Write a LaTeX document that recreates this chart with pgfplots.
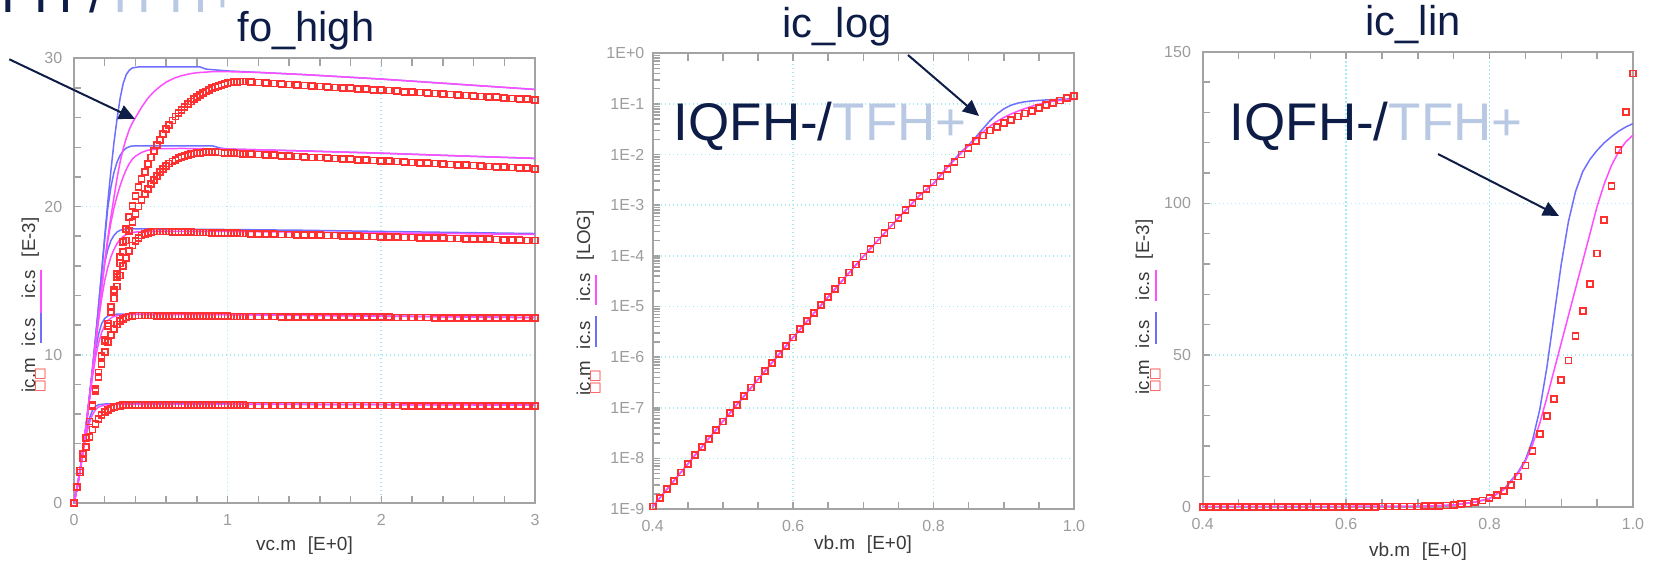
\documentclass[border=0pt]{standalone}
\usepackage{fontspec}
\setmainfont{Liberation Sans}
\newfontfamily\symfont{DejaVu Sans}
\usepackage{xcolor}
\usepackage{pgfplots}
\usepackage{pgfplotstable}
\pgfplotsset{compat=1.18}
\usetikzlibrary{arrows.meta}

\definecolor{navy}{HTML}{0E1D47}
\definecolor{paleblue}{HTML}{B9C8E3}
\definecolor{simblue}{HTML}{6F6FFF}
\definecolor{simmag}{HTML}{FF4DFF}
\definecolor{measred}{HTML}{FF3030}
\definecolor{gridcyan}{HTML}{A8EAF2}
\definecolor{framegray}{HTML}{A3A3A3}
\definecolor{ticklab}{HTML}{9C9C9C}
\definecolor{labgray}{HTML}{3A3A3A}

% output characteristics: vce sweep, five base currents
\pgfplotstableread{
v r1 r2 r3 r4 r5
0.00 0 0 0 0 0
0.02 1.05 1.10 1.10 1.10 1.10
0.04 2.05 2.20 2.20 2.20 2.20
0.06 3.00 3.30 3.30 3.30 3.30
0.08 3.80 4.40 4.40 4.40 4.40
0.10 4.45 5.50 5.50 5.50 5.50
0.12 4.95 6.55 6.60 6.60 6.60
0.14 5.35 7.55 7.70 7.70 7.70
0.16 5.68 8.50 8.80 8.80 8.80
0.18 5.94 9.40 9.90 9.90 9.90
0.20 6.13 10.20 10.95 11.00 11.00
0.22 6.27 10.85 11.95 12.10 12.10
0.24 6.38 11.35 12.90 13.20 13.25
0.26 6.46 11.75 13.80 14.25 14.35
0.28 6.52 12.05 14.60 15.25 15.45
0.30 6.56 12.27 15.35 16.15 16.60
0.32 6.59 12.42 16.00 16.95 17.60
0.34 6.60 12.52 16.55 17.70 18.50
0.36 6.60 12.58 17.00 18.35 19.30
0.38 6.60 12.62 17.38 18.95 20.05
0.40 6.60 12.64 17.67 19.50 20.70
0.42 6.60 12.64 17.89 20.00 21.30
0.44 6.60 12.64 18.04 20.45 21.85
0.46 6.60 12.64 18.15 20.85 22.35
0.48 6.60 12.64 18.23 21.20 22.85
0.50 6.60 12.64 18.28 21.52 23.30
0.52 6.60 12.64 18.31 21.80 23.75
0.54 6.60 12.63 18.32 22.08 24.15
0.56 6.60 12.63 18.32 22.33 24.50
0.58 6.60 12.63 18.32 22.55 24.88
0.60 6.60 12.63 18.31 22.74 25.22
0.62 6.60 12.62 18.31 22.90 25.52
0.64 6.59 12.62 18.30 23.04 25.80
0.66 6.59 12.62 18.29 23.16 26.07
0.68 6.59 12.62 18.29 23.27 26.30
0.70 6.59 12.62 18.28 23.36 26.52
0.72 6.59 12.62 18.28 23.43 26.72
0.74 6.59 12.61 18.27 23.49 26.91
0.76 6.59 12.61 18.27 23.54 27.08
0.78 6.59 12.61 18.26 23.58 27.24
0.80 6.59 12.61 18.26 23.61 27.39
0.82 6.59 12.61 18.25 23.63 27.52
0.84 6.59 12.60 18.25 23.65 27.65
0.86 6.59 12.60 18.24 23.66 27.77
0.88 6.59 12.60 18.24 23.67 27.88
0.90 6.59 12.60 18.23 23.67 27.98
0.92 6.59 12.60 18.23 23.66 28.07
0.94 6.59 12.60 18.22 23.65 28.15
0.96 6.59 12.60 18.22 23.64 28.22
0.98 6.59 12.60 18.21 23.63 28.28
1.00 6.59 12.60 18.21 23.62 28.33
1.02 6.59 12.59 18.20 23.61 28.37
1.04 6.59 12.59 18.20 23.60 28.40
1.06 6.59 12.59 18.20 23.59 28.42
1.08 6.59 12.59 18.19 23.58 28.43
1.10 6.59 12.59 18.19 23.56 28.43
1.15 6.58 12.59 18.17 23.54 28.40
1.20 6.58 12.58 18.16 23.51 28.37
1.25 6.58 12.58 18.15 23.48 28.33
1.30 6.58 12.58 18.14 23.46 28.30
1.35 6.58 12.57 18.12 23.43 28.27
1.40 6.58 12.57 18.11 23.40 28.24
1.45 6.58 12.57 18.10 23.38 28.20
1.50 6.58 12.56 18.09 23.35 28.17
1.55 6.58 12.56 18.07 23.32 28.14
1.60 6.58 12.56 18.06 23.30 28.11
1.65 6.57 12.55 18.05 23.27 28.07
1.70 6.57 12.55 18.04 23.24 28.04
1.75 6.57 12.55 18.02 23.22 28.01
1.80 6.57 12.54 18.01 23.19 27.98
1.85 6.57 12.54 18.00 23.16 27.95
1.90 6.57 12.54 17.99 23.14 27.91
1.95 6.57 12.53 17.97 23.11 27.88
2.00 6.57 12.53 17.96 23.08 27.85
2.05 6.57 12.53 17.95 23.06 27.82
2.10 6.57 12.52 17.94 23.03 27.78
2.15 6.56 12.52 17.92 23.00 27.75
2.20 6.56 12.51 17.91 22.98 27.72
2.25 6.56 12.51 17.90 22.95 27.69
2.30 6.56 12.51 17.89 22.92 27.66
2.35 6.56 12.50 17.87 22.90 27.62
2.40 6.56 12.50 17.86 22.87 27.59
2.45 6.56 12.50 17.85 22.84 27.56
2.50 6.56 12.49 17.84 22.82 27.53
2.55 6.56 12.49 17.82 22.79 27.49
2.60 6.56 12.49 17.81 22.76 27.46
2.65 6.55 12.48 17.80 22.74 27.43
2.70 6.55 12.48 17.79 22.71 27.40
2.75 6.55 12.48 17.77 22.68 27.37
2.80 6.55 12.47 17.76 22.66 27.33
2.85 6.55 12.47 17.75 22.63 27.30
2.90 6.55 12.47 17.74 22.60 27.27
2.95 6.55 12.46 17.72 22.58 27.24
3.00 6.55 12.46 17.71 22.55 27.20
}\fohigh

% gummel sweep, measured ic in A and in mA
\pgfplotstableread{
v ia ima
0.40 1.12e-9 1.12e-6
0.41 1.66e-9 1.66e-6
0.42 2.45e-9 2.45e-6
0.43 3.55e-9 3.55e-6
0.44 5.25e-9 5.25e-6
0.45 7.76e-9 7.76e-6
0.46 1.15e-8 1.15e-5
0.47 1.70e-8 1.70e-5
0.48 2.45e-8 2.45e-5
0.49 3.63e-8 3.63e-5
0.50 5.37e-8 5.37e-5
0.51 7.94e-8 7.94e-5
0.52 1.15e-7 1.15e-4
0.53 1.70e-7 1.70e-4
0.54 2.51e-7 2.51e-4
0.55 3.63e-7 3.63e-4
0.56 5.37e-7 5.37e-4
0.57 7.76e-7 7.76e-4
0.58 1.15e-6 1.15e-3
0.59 1.66e-6 1.66e-3
0.60 2.45e-6 2.45e-3
0.61 3.55e-6 3.55e-3
0.62 5.13e-6 5.13e-3
0.63 7.41e-6 7.41e-3
0.64 1.07e-5 0.0107
0.65 1.55e-5 0.0155
0.66 2.24e-5 0.0224
0.67 3.24e-5 0.0324
0.68 4.68e-5 0.0468
0.69 6.76e-5 0.0676
0.70 9.77e-5 0.0977
0.71 1.38e-4 0.138
0.72 2.00e-4 0.200
0.73 2.82e-4 0.282
0.74 3.98e-4 0.398
0.75 5.62e-4 0.562
0.76 7.94e-4 0.794
0.77 1.10e-3 1.10
0.78 1.51e-3 1.51
0.79 2.09e-3 2.09
0.80 2.82e-3 2.82
0.81 3.80e-3 3.80
0.82 5.20e-3 5.20
0.83 7.20e-3 7.20
0.84 1.00e-2 10.0
0.85 1.36e-2 13.6
0.86 1.84e-2 18.4
0.87 2.40e-2 24.0
0.88 2.98e-2 29.8
0.89 3.56e-2 35.6
0.90 4.18e-2 41.8
0.91 4.82e-2 48.2
0.92 5.63e-2 56.3
0.93 6.45e-2 64.5
0.94 7.35e-2 73.5
0.95 8.35e-2 83.5
0.96 9.46e-2 94.6
0.97 1.057e-1 105.7
0.98 1.177e-1 117.7
0.99 1.301e-1 130.1
1.00 1.428e-1 142.8
}\gummel

\pgfplotsset{
  panel/.style={
    scale only axis,
    axis line style={framegray, line width=0.6pt},
    tick style={framegray, line width=0.45pt},
    major tick length=2.2pt, minor tick length=2.2pt,
    tick align=inside,
    xtick pos=both, xticklabel pos=lower,
    ytick pos=left,
    grid=major,
    major grid style={gridcyan, line width=0.5pt, dash pattern=on 0.4pt off 0.8pt},
    ticklabel style={font=\fontsize{4.8}{5}\selectfont, text=ticklab},
    /pgf/number format/assume math mode=true,
  },
  meas/.style={only marks, mark=square, mark size=0.9pt,
    mark options={draw=measred, line width=0.5pt, fill=none}},
  simA/.style={simblue, line width=0.45pt, no marks},
  simB/.style={simmag, line width=0.45pt, no marks},
}

\begin{document}
\begin{tikzpicture}[x=0.3pt, y=0.3pt]
\useasboundingbox (0,0) rectangle (1659,576);
\clip (0,0) rectangle (1659,576);

% ---------- fo_high ----------
\begin{axis}[panel,
    at={(22.2pt,21.9pt)}, anchor=south west,
    width=138.3pt, height=133.41pt,
    xmin=0, xmax=3, ymin=0, ymax=30,
    xtick={0,1,2,3}, xticklabels={0,1,2,3}, minor x tick num=4,
    ytick={0,10,20,30}, yticklabels={0,10,20,30}, minor y tick num=4,
]
\addplot[meas] table[x=v, y=r1] {\fohigh};
\addplot[meas] table[x=v, y=r2] {\fohigh};
\addplot[meas] table[x=v, y=r3] {\fohigh};
\addplot[meas] table[x=v, y=r4] {\fohigh};
\addplot[meas] table[x=v, y=r5] {\fohigh};
% model 1
\addplot[simA] coordinates {(0,0) (0.02,1.0) (0.04,2.2) (0.06,3.6) (0.08,4.8) (0.10,5.7) (0.12,6.25) (0.14,6.52) (0.16,6.63) (0.20,6.68) (1.0,6.68) (2.0,6.65) (3.0,6.62)};
\addplot[simA] coordinates {(0,0) (0.02,1.0) (0.04,2.2) (0.06,3.7) (0.08,5.3) (0.10,7.1) (0.12,8.8) (0.14,10.3) (0.16,11.4) (0.18,12.1) (0.20,12.45) (0.22,12.62) (0.25,12.72) (0.30,12.75) (1.0,12.73) (2.0,12.62) (3.0,12.52)};
\addplot[simA] coordinates {(0,0) (0.02,1.0) (0.04,2.2) (0.06,3.7) (0.08,5.3) (0.10,7.1) (0.12,9.0) (0.14,11.1) (0.16,13.1) (0.18,14.8) (0.20,16.2) (0.22,17.1) (0.24,17.7) (0.26,18.05) (0.28,18.28) (0.30,18.4) (0.33,18.48) (0.36,18.5) (1.0,18.45) (1.5,18.4) (2.0,18.32) (2.5,18.25) (3.0,18.18)};
\addplot[simA] coordinates {(0,0) (0.02,1.0) (0.04,2.2) (0.06,3.7) (0.08,5.3) (0.10,7.1) (0.12,9.0) (0.14,11.1) (0.16,13.3) (0.18,15.6) (0.20,17.8) (0.22,19.9) (0.24,21.3) (0.26,22.3) (0.28,23.0) (0.30,23.45) (0.32,23.75) (0.34,23.95) (0.37,24.07) (0.40,24.1) (0.90,24.1) (0.95,23.95) (1.0,23.88) (1.5,23.75) (2.0,23.6) (2.5,23.42) (3.0,23.25)};
\addplot[simA] coordinates {(0,0) (0.02,1.0) (0.04,2.2) (0.06,3.7) (0.08,5.3) (0.10,7.1) (0.12,9.0) (0.14,11.1) (0.16,13.3) (0.18,15.6) (0.20,18.0) (0.22,20.3) (0.24,22.4) (0.26,24.3) (0.28,25.9) (0.30,27.3) (0.32,28.3) (0.34,28.9) (0.36,29.2) (0.38,29.35) (0.42,29.42) (0.82,29.42) (0.86,29.27) (1.0,29.15) (1.3,29.0) (1.5,28.9) (2.0,28.6) (2.5,28.25) (3.0,27.9)};
% model 2
\addplot[simB] coordinates {(0,0) (0.02,1.0) (0.04,2.2) (0.06,3.5) (0.08,4.6) (0.10,5.4) (0.12,5.95) (0.14,6.3) (0.16,6.48) (0.20,6.62) (0.30,6.66) (1.0,6.66) (2.0,6.63) (3.0,6.6)};
\addplot[simB] coordinates {(0,0) (0.02,1.0) (0.04,2.2) (0.06,3.7) (0.08,5.3) (0.10,7.0) (0.12,8.5) (0.14,9.8) (0.16,10.8) (0.18,11.5) (0.20,12.0) (0.22,12.3) (0.25,12.55) (0.30,12.68) (0.40,12.72) (1.0,12.7) (2.0,12.6) (3.0,12.5)};
\addplot[simB] coordinates {(0,0) (0.02,1.0) (0.04,2.2) (0.06,3.7) (0.08,5.3) (0.10,7.0) (0.12,8.8) (0.14,10.7) (0.16,12.3) (0.18,13.8) (0.20,15.0) (0.22,15.9) (0.24,16.6) (0.26,17.1) (0.28,17.5) (0.30,17.8) (0.33,18.05) (0.36,18.2) (0.40,18.28) (0.50,18.32) (1.0,18.32) (2.0,18.22) (3.0,18.12)};
\addplot[simB] coordinates {(0,0) (0.02,1.0) (0.04,2.2) (0.06,3.7) (0.08,5.3) (0.10,7.0) (0.12,8.8) (0.14,10.7) (0.16,12.6) (0.18,14.5) (0.20,16.2) (0.22,17.7) (0.24,18.9) (0.26,19.9) (0.28,20.7) (0.30,21.4) (0.32,22.0) (0.34,22.5) (0.36,22.9) (0.38,23.2) (0.40,23.4) (0.44,23.65) (0.48,23.8) (0.55,23.9) (0.70,23.92) (1.0,23.88) (1.5,23.75) (2.0,23.6) (2.5,23.42) (3.0,23.25)};
\addplot[simB] coordinates {(0,0) (0.02,1.0) (0.04,2.2) (0.06,3.7) (0.08,5.3) (0.10,7.0) (0.12,8.8) (0.14,10.7) (0.16,12.6) (0.18,14.5) (0.20,16.3) (0.22,17.9) (0.24,19.3) (0.26,20.6) (0.28,21.9) (0.30,23.0) (0.32,23.9) (0.34,24.6) (0.36,25.2) (0.38,25.65) (0.40,26.0) (0.44,26.7) (0.48,27.3) (0.52,27.75) (0.56,28.1) (0.60,28.4) (0.65,28.65) (0.70,28.83) (0.75,28.95) (0.80,29.03) (0.90,29.1) (1.0,29.1) (1.2,29.05) (1.5,28.9) (2.0,28.6) (2.5,28.25) (3.0,27.9)};
\end{axis}

% ---------- ic_log ----------
\begin{axis}[panel,
    at={(195.81pt,20.1pt)}, anchor=south west,
    width=126.39pt, height=136.71pt,
    xmin=0.4, xmax=1.0, ymode=log, ymin=1e-9, ymax=1,
    xtick={0.4,0.6,0.8,1.0}, xticklabels={0.4,0.6,0.8,1.0}, minor x tick num=3,
    ytick={1e-9,1e-8,1e-7,1e-6,1e-5,1e-4,1e-3,1e-2,1e-1,1},
    yticklabels={1E-9,1E-8,1E-7,1E-6,1E-5,1E-4,1E-3,1E-2,1E-1,1E+0},
    minor ytick={2e-9,3e-9,4e-9,5e-9,6e-9,7e-9,8e-9,9e-9,
                 2e-8,3e-8,4e-8,5e-8,6e-8,7e-8,8e-8,9e-8,
                 2e-7,3e-7,4e-7,5e-7,6e-7,7e-7,8e-7,9e-7,
                 2e-6,3e-6,4e-6,5e-6,6e-6,7e-6,8e-6,9e-6,
                 2e-5,3e-5,4e-5,5e-5,6e-5,7e-5,8e-5,9e-5,
                 2e-4,3e-4,4e-4,5e-4,6e-4,7e-4,8e-4,9e-4,
                 2e-3,3e-3,4e-3,5e-3,6e-3,7e-3,8e-3,9e-3,
                 2e-2,3e-2,4e-2,5e-2,6e-2,7e-2,8e-2,9e-2,
                 2e-1,3e-1,4e-1,5e-1,6e-1,7e-1,8e-1,9e-1},
    yticklabel style={xshift=1pt},
]
\addplot[meas] table[x=v, y=ia] {\gummel};
\addplot[simA] coordinates {(0.40,1.12e-9) (0.45,7.76e-9) (0.50,5.37e-8) (0.55,3.63e-7) (0.60,2.45e-6) (0.65,1.55e-5) (0.70,9.77e-5) (0.75,5.62e-4) (0.78,1.55e-3) (0.80,2.7e-3) (0.82,5.8e-3) (0.84,1.15e-2) (0.85,1.55e-2) (0.86,2.2e-2) (0.87,3.2e-2) (0.88,4.6e-2) (0.89,6.3e-2) (0.90,8.0e-2) (0.91,9.4e-2) (0.92,0.104) (0.93,0.1105) (0.94,0.1145) (0.95,0.1175) (0.96,0.120) (0.97,0.122) (0.98,0.1238) (0.99,0.1252) (1.00,0.1263)};
\addplot[simB] coordinates {(0.40,1.12e-9) (0.45,7.76e-9) (0.50,5.37e-8) (0.55,3.63e-7) (0.60,2.45e-6) (0.65,1.55e-5) (0.70,9.77e-5) (0.75,5.62e-4) (0.78,1.55e-3) (0.80,2.65e-3) (0.82,5.6e-3) (0.84,1.1e-2) (0.85,1.5e-2) (0.86,2.05e-2) (0.87,2.75e-2) (0.88,3.6e-2) (0.89,4.5e-2) (0.90,5.4e-2) (0.91,6.3e-2) (0.92,7.2e-2) (0.93,8.1e-2) (0.94,9.0e-2) (0.95,9.9e-2) (0.96,0.1065) (0.97,0.1125) (0.98,0.117) (0.99,0.1203) (1.00,0.1225)};
\end{axis}

% ---------- ic_lin ----------
\begin{axis}[panel,
    at={(360.81pt,20.79pt)}, anchor=south west,
    width=129.09pt, height=136.5pt,
    xmin=0.4, xmax=1.0, ymin=0, ymax=150,
    xtick={0.4,0.6,0.8,1.0}, xticklabels={0.4,0.6,0.8,1.0}, minor x tick num=3,
    ytick={0,50,100,150}, yticklabels={0,50,100,150}, minor y tick num=4,
]
\addplot[meas] table[x=v, y=ima] {\gummel};
\addplot[simA] coordinates {(0.40,0) (0.70,0.1) (0.75,0.56) (0.78,1.55) (0.80,2.7) (0.82,5.8) (0.84,11.5) (0.85,15.5) (0.86,22) (0.87,32) (0.88,46) (0.89,63) (0.90,80) (0.91,94) (0.92,104) (0.93,110.5) (0.94,114.5) (0.95,117.5) (0.96,120) (0.97,122) (0.98,123.8) (0.99,125.2) (1.00,126.3)};
\addplot[simB] coordinates {(0.40,0) (0.70,0.1) (0.75,0.56) (0.78,1.55) (0.80,2.65) (0.82,5.6) (0.84,11) (0.85,15) (0.86,20.5) (0.87,27.5) (0.88,36) (0.89,45) (0.90,54) (0.91,63) (0.92,72) (0.93,81) (0.94,90) (0.95,99) (0.96,106.5) (0.97,112.5) (0.98,117) (0.99,120.3) (1.00,122.5)};
\end{axis}

% ---------- titles, axis labels, annotations ----------
\begin{scope}[every node/.style={inner sep=0pt}]
\node[anchor=base, font=\fontsize{12.5}{14}\selectfont, text=navy] at (306,535) {fo\_high};
\node[anchor=base, font=\fontsize{12.5}{14}\selectfont, text=navy] at (837,539) {ic\_log};
\node[anchor=base, font=\fontsize{12.5}{14}\selectfont, text=navy] at (1413,541) {ic\_lin};

\node[anchor=base west, font=\fontsize{15.9}{18}\selectfont] at (-55,563.3) {\textcolor{navy}{IQFH-/}\textcolor{paleblue}{TFH+}};
\node[anchor=base west, font=\fontsize{15.9}{18}\selectfont] at (673,436) {\textcolor{navy}{IQFH-/}\textcolor{paleblue}{TFH+}};
\node[anchor=base west, font=\fontsize{15.9}{18}\selectfont] at (1229,436) {\textcolor{navy}{IQFH-/}\textcolor{paleblue}{TFH+}};

\node[anchor=center, font=\fontsize{5.7}{6}\selectfont, text=labgray] at (304.5,30) {vc.m\hspace{3.5pt}[E+0]};
\node[anchor=center, font=\fontsize{5.7}{6}\selectfont, text=labgray] at (863,31) {vb.m\hspace{3.5pt}[E+0]};
\node[anchor=center, font=\fontsize{5.7}{6}\selectfont, text=labgray] at (1418,24) {vb.m\hspace{3.5pt}[E+0]};

\node[rotate=90, anchor=base west, font=\fontsize{5.6}{6}\selectfont, text=labgray] at (35,183) {ic.m\hspace{3.6pt}ic.s\hspace{6pt}ic.s\hspace{3.9pt}[E-3]};
\node[rotate=90, font=\symfont\fontsize{4}{4}\selectfont, text=measred] at (40.5,196) {□□};
\node[rotate=90] at (41,248.5) {\textcolor{simblue}{\rule{9.3pt}{0.45pt}}};
\node[rotate=90] at (41,284.5) {\textcolor{simmag}{\rule{12.9pt}{0.45pt}}};

\node[rotate=90, anchor=base west, font=\fontsize{5.6}{6}\selectfont, text=labgray] at (590,180) {ic.m\hspace{3.6pt}ic.s\hspace{6pt}ic.s\hspace{3.9pt}[LOG]};
\node[rotate=90, font=\symfont\fontsize{4}{4}\selectfont, text=measred] at (595.5,194) {□□};
\node[rotate=90] at (596,244.5) {\textcolor{simblue}{\rule{9.3pt}{0.45pt}}};
\node[rotate=90] at (596,286) {\textcolor{simmag}{\rule{9pt}{0.45pt}}};

\node[rotate=90, anchor=base west, font=\fontsize{5.6}{6}\selectfont, text=labgray] at (1149,181) {ic.m\hspace{3.6pt}ic.s\hspace{6pt}ic.s\hspace{3.9pt}[E-3]};
\node[rotate=90, font=\symfont\fontsize{4}{4}\selectfont, text=measred] at (1155.5,196) {□□};
\node[rotate=90] at (1156,248) {\textcolor{simblue}{\rule{9.6pt}{0.45pt}}};
\node[rotate=90] at (1156,290.5) {\textcolor{simmag}{\rule{9.3pt}{0.45pt}}};
\end{scope}

\draw[navy, line width=0.6pt, -{Triangle[length=4.8pt,width=4.4pt]}] (9.3,516.7) -- (135,457);
\draw[navy, line width=0.6pt, -{Triangle[length=4.8pt,width=4.4pt]}] (908,521) -- (979,460);
\draw[navy, line width=0.6pt, -{Triangle[length=4.8pt,width=4.4pt]}] (1438,422) -- (1559,360);
\end{tikzpicture}
\end{document}
